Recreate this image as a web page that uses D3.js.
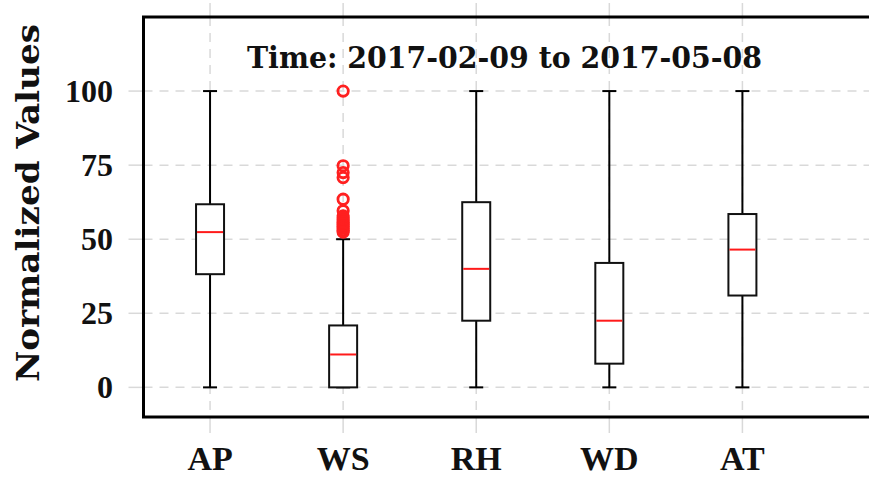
<!DOCTYPE html>
<html>
<head>
<meta charset="utf-8">
<script src="https://cdn.jsdelivr.net/npm/d3@7"></script>
<style>
  html, body { margin: 0; padding: 0; background: #fff; overflow: hidden; }
  text { font-family: "Liberation Serif", "Times New Roman", serif; font-weight: bold; fill: #111; }
  text.wide { font-family: "DejaVu Serif", serif; }
</style>
</head>
<body>
<svg id="chart" width="869" height="477"></svg>
<script>
// ---- data ----
const categories = ["AP", "WS", "RH", "WD", "AT"];
const whiskerLow  = [0, 0, 0, 0, 0];
const boxLow      = [38.2, 0, 22.5, 8, 31];
const medians     = [52.4, 11.1, 40, 22.5, 46.5];
const boxHigh     = [61.8, 20.9, 62.5, 42, 58.5];
const whiskerHigh = [100, 50, 100, 100, 100];
const wsOutliers  = [100, 74.8, 72.5, 70.8, 63.5, 59.6, 57.9, 57.2, 56.5, 55.8, 55.1, 54.4, 53.7, 53, 52.4];
const yTicks      = [0, 25, 50, 75, 100];
const titleText   = "Time: 2017-02-09 to 2017-05-08";
const yLabel      = "Normalized Values";

const svg = d3.select("#chart");

const x = d3.scaleLinear().domain([0.5, 6]).range([143.5, 875.5]);
const y = d3.scaleLinear().domain([-10, 125]).range([417, 17]);

const pLeft = x(0.5), pRight = x(6), pTop = y(125), pBottom = y(-10);
const gridColor = "#d9d9d9";

// gridlines (dashed inside) and gray ticks outside
const grid = svg.append("g");
yTicks.forEach(v => {
  grid.append("line").attr("x1", pLeft).attr("x2", pRight).attr("y1", y(v)).attr("y2", y(v))
    .attr("stroke", gridColor).attr("stroke-width", 1.5).attr("stroke-dasharray", "9,7");
  grid.append("line").attr("x1", pLeft - 15).attr("x2", pLeft).attr("y1", y(v)).attr("y2", y(v))
    .attr("stroke", gridColor).attr("stroke-width", 1.5);
});
categories.forEach((c, i) => {
  const cx = x(i + 1);
  grid.append("line").attr("x1", cx).attr("x2", cx).attr("y1", pTop).attr("y2", pBottom)
    .attr("stroke", gridColor).attr("stroke-width", 1.5).attr("stroke-dasharray", "9,7");
  grid.append("line").attr("x1", cx).attr("x2", cx).attr("y1", pTop - 14).attr("y2", pTop)
    .attr("stroke", gridColor).attr("stroke-width", 1.5);
  grid.append("line").attr("x1", cx).attr("x2", cx).attr("y1", pBottom).attr("y2", pBottom + 16)
    .attr("stroke", gridColor).attr("stroke-width", 1.5);
});

// boxes
const boxW = 28, capW = 14;
const g = svg.append("g");
categories.forEach((c, i) => {
  const cx = x(i + 1);
  g.append("line").attr("x1", cx).attr("x2", cx).attr("y1", y(whiskerLow[i])).attr("y2", y(boxLow[i]))
    .attr("stroke", "#000").attr("stroke-width", 2);
  g.append("line").attr("x1", cx).attr("x2", cx).attr("y1", y(boxHigh[i])).attr("y2", y(whiskerHigh[i]))
    .attr("stroke", "#000").attr("stroke-width", 2);
  g.append("line").attr("x1", cx - capW / 2).attr("x2", cx + capW / 2).attr("y1", y(whiskerLow[i])).attr("y2", y(whiskerLow[i]))
    .attr("stroke", "#000").attr("stroke-width", 2);
  g.append("line").attr("x1", cx - capW / 2).attr("x2", cx + capW / 2).attr("y1", y(whiskerHigh[i])).attr("y2", y(whiskerHigh[i]))
    .attr("stroke", "#000").attr("stroke-width", 2);
  g.append("rect").attr("x", cx - boxW / 2).attr("width", boxW)
    .attr("y", y(boxHigh[i])).attr("height", y(boxLow[i]) - y(boxHigh[i]))
    .attr("fill", "#fff").attr("stroke", "#111").attr("stroke-width", 2);
  g.append("line").attr("x1", cx - boxW / 2 + 1).attr("x2", cx + boxW / 2 - 1).attr("y1", y(medians[i])).attr("y2", y(medians[i]))
    .attr("stroke", "#ff1a1a").attr("stroke-width", 2);
});

// outliers of WS
g.selectAll("circle.out").data(wsOutliers).join("circle")
  .attr("class", "out")
  .attr("cx", x(2)).attr("cy", d => y(d)).attr("r", 5.2)
  .attr("fill", "none").attr("stroke", "#ff2020").attr("stroke-width", 2.8);

// frame
svg.append("rect")
  .attr("x", pLeft).attr("y", pTop).attr("width", pRight - pLeft).attr("height", pBottom - pTop)
  .attr("fill", "none").attr("stroke", "#000").attr("stroke-width", 3);

// y tick labels
svg.append("g").selectAll("text").data(yTicks).join("text")
  .attr("x", 113).attr("y", d => y(d) + 11)
  .attr("text-anchor", "end").attr("font-size", 32)
  .text(d => d);

// x tick labels
svg.append("g").selectAll("text").data(categories).join("text")
  .attr("x", (d, i) => x(i + 1)).attr("y", 470)
  .attr("text-anchor", "middle").attr("font-size", 34)
  .text(d => d);

// title
svg.append("text").attr("class", "wide").attr("x", 247).attr("y", 68)
  .attr("font-size", 29).attr("textLength", 515).attr("lengthAdjust", "spacingAndGlyphs")
  .text(titleText);

// y label
svg.append("text").attr("class", "wide")
  .attr("transform", "translate(39,203) rotate(-90)")
  .attr("text-anchor", "middle").attr("font-size", 31)
  .attr("textLength", 358).attr("lengthAdjust", "spacingAndGlyphs")
  .text(yLabel);
</script>
</body>
</html>
